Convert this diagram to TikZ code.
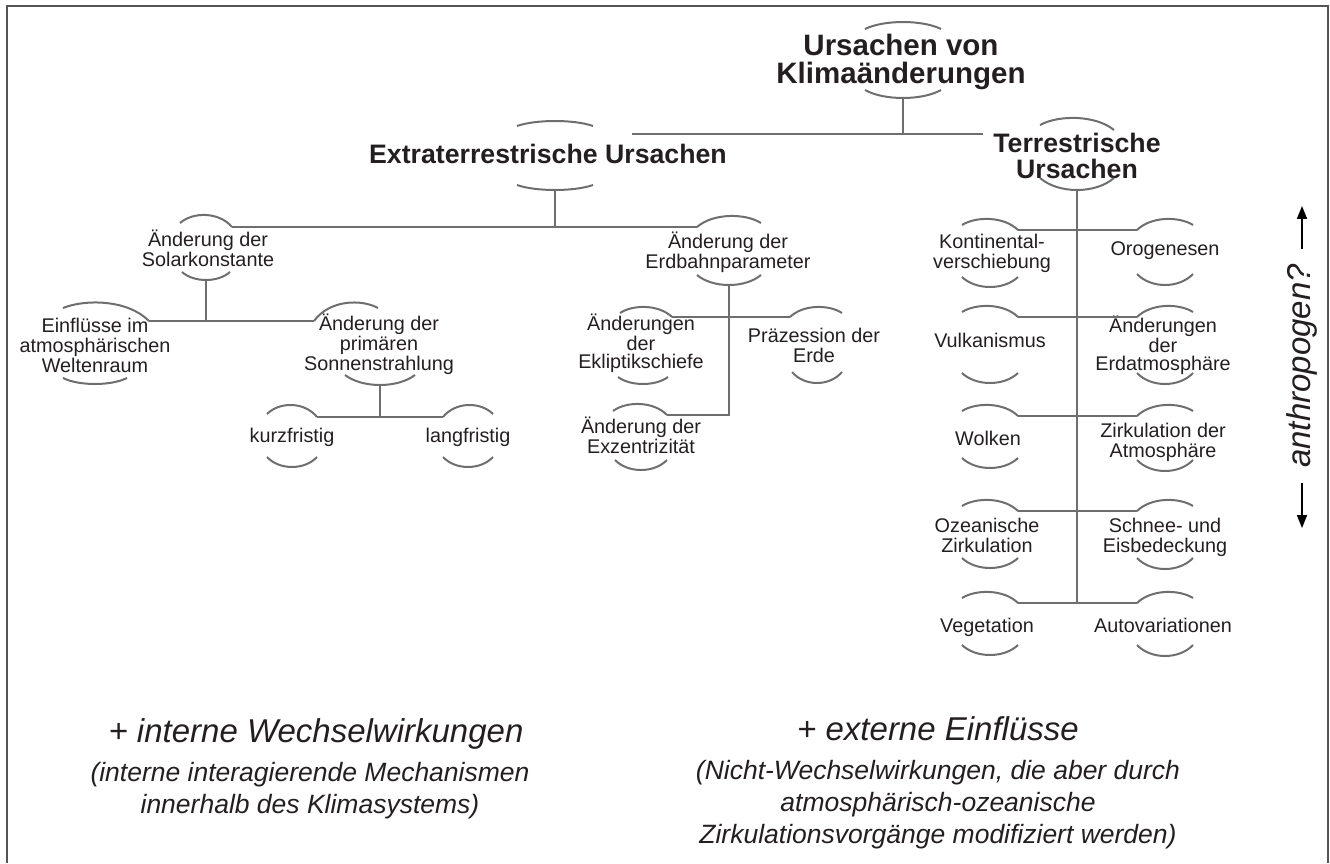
\documentclass[tikz,border=0pt]{standalone}
\usepackage{fontspec}
\setmainfont{Liberation Sans}
\usetikzlibrary{arrows.meta}
\definecolor{liniengrau}{HTML}{6E6E6E}
\definecolor{rahmengrau}{HTML}{555555}
\definecolor{schrift}{HTML}{231F20}
% #1 name, #2 centre x, #3 half width, #4 left end y, #5 right end y, #6 peak y
\newcommand{\bogen}[6]{%
  \pgfmathsetmacro\bogenc{(#6-(#4+#5)/8)*4/3}
  \draw[bogenlinie] (#2-#3,#4) coordinate (#1-l)
    .. controls (#2-#3/2,\bogenc) and (#2+#3/2,\bogenc) .. (#2+#3,#5) coordinate (#1-r);
  \coordinate (#1-m) at (#2,#6);}
\begin{document}
\begin{tikzpicture}[x=1pt,y=-1pt,text=schrift,
    linie/.style={draw=liniengrau,line width=2.6pt},
    bogenlinie/.style={draw=liniengrau,line width=2pt},
    % nodes sit on the baseline of their last line
    txt/.style={font=\fontsize{19.8}{20}\selectfont,align=center,inner sep=0pt,anchor=base},
    eng/.style={font=\fontsize{19.8}{18}\selectfont},
    kopf/.style={font=\bfseries\fontsize{26.7}{26}\selectfont,align=center,inner sep=0pt,anchor=base},
    fuss/.style={font=\itshape\fontsize{33}{36}\selectfont,inner sep=0pt,anchor=base},
    fusstxt/.style={font=\itshape\fontsize{26.5}{32}\selectfont,align=center,inner sep=0pt,anchor=base},
    pfeil/.style={line width=1.6pt,-{Triangle[length=13pt,width=10pt]}}]
\useasboundingbox (0,0) rectangle (1330,863);
%frame, open at the bottom
\draw[rahmengrau,line width=2.2pt] (7,863) -- (7,6) -- (1328,6) -- (1328,863);

%headings
\node[kopf,font=\bfseries\fontsize{29.5}{28}\selectfont] (ttl) at (901,83) {Ursachen von\\Klimaänderungen};
\bogen{ttl-t}{903}{38}{29}{29}{22}
\bogen{ttl-b}{903}{38}{90}{90}{98}
\node[kopf] (ext) at (548,163) {Extraterrestrische Ursachen};
\bogen{ext-t}{555}{38}{126}{126}{121}
\bogen{ext-b}{555}{38}{185}{185}{190}
\node[kopf] (ter) at (1077,178) {Terrestrische\\Ursachen};
\bogen{ter-t}{1077}{37}{125}{130}{118}
\bogen{ter-b}{1077}{37}{178}{178}{190}
\coordinate (hauptL) at (632,134);
\coordinate (hauptR) at (983,134);
\draw[linie] (hauptL) -- (hauptR);
\draw[linie] (ttl-b-m) -- (ttl-b-m |- hauptL);

%extraterrestrial branch
\node[txt] (sol) at (208,266) {Änderung der\\Solarkonstante};
\bogen{sol-t}{206}{26}{223}{227}{215}
\bogen{sol-b}{206}{24}{272}{272}{280}
\node[txt] (erd) at (728,268) {Änderung der\\Erdbahnparameter};
\bogen{erd-t}{729}{32}{227}{223}{216}
\bogen{erd-b}{729}{32}{275}{275}{285}
\draw[linie] (ext-b-m) -- (ext-b-m |- sol-t-r);
\draw[linie] (sol-t-r) -- (erd-t-l);

\node[txt] (ein) at (95,372) {Einflüsse im\\atmosphärischen\\Weltenraum};
\bogen{ein-t}{106}{43}{308}{321}{303}
\bogen{ein-b}{95}{32}{378}{378}{384}
\node[txt] (pri) at (379,370) {Änderung der\\primären\\Sonnenstrahlung};
\bogen{pri-t}{346}{32}{321}{308}{303}
\bogen{pri-b}{380}{35}{375}{375}{385}
\draw[linie] (sol-b-m) -- (sol-b-m |- ein-t-r);
\draw[linie] (ein-t-r) -- (pri-t-l);

\node[txt] (kur) at (292,442) {kurzfristig};
\bogen{kur-t}{292}{25}{414}{417}{405}
\bogen{kur-b}{292}{25}{457}{457}{467}
\node[txt] (lang) at (468,442) {langfristig};
\bogen{lang-t}{468}{25}{417}{414}{405}
\bogen{lang-b}{468}{25}{457}{457}{467}
\draw[linie] (pri-b-m) -- (pri-b-m |- kur-t-r);
\draw[linie] (kur-t-r) -- (lang-t-l);

\node[txt,eng] (ekl) at (641,368) {Änderungen\\der\\Ekliptikschiefe};
\bogen{ekl-t}{646}{26}{313}{317}{307}
\bogen{ekl-b}{643}{25}{377}{377}{384}
\node[txt] (pra) at (814,362) {Präzession der\\Erde};
\bogen{pra-t}{816}{26}{317}{313}{307}
\bogen{pra-b}{817}{25}{372}{372}{383}
\node[txt] (exz) at (641,453) {Änderung der\\Exzentrizität};
\bogen{exz-t}{640}{27}{411}{415}{404}
\bogen{exz-b}{641}{26}{460}{460}{470}
\draw[linie] (ekl-t-r) -- (pra-t-l);
\draw[linie] (erd-b-m) -- (erd-b-m |- exz-t-r) -- (exz-t-r);

%terrestrial branch
\node[txt] (kon) at (992,268) {Kontinental-\\verschiebung};
\node[txt] (oro) at (1165,255) {Orogenesen};
\node[txt] (vul) at (990,347) {Vulkanismus};
\node[txt,eng] (atm) at (1163,370) {Änderungen\\der\\Erdatmosphäre};
\node[txt] (wol) at (988,445) {Wolken};
\node[txt] (zir) at (1163,457) {Zirkulation der\\Atmosphäre};
\node[txt] (oze) at (987,552) {Ozeanische\\Zirkulation};
\node[txt] (sch) at (1165,552) {Schnee- und\\Eisbedeckung};
\node[txt] (veg) at (987,632) {Vegetation};
\node[txt] (aut) at (1163,632) {Autovariationen};
\foreach \y/\l/\r/\bl/\br in {230/kon/oro/277/274, 317/vul/atm/373/373, 416/wol/zir/458/460,
                              511/oze/sch/558/558, 603/veg/aut/645/645} {
  \bogen{\l-t}{990}{28}{\y-5}{\y}{\y-11}
  \bogen{\r-t}{1165}{28}{\y}{\y-5}{\y-11}
  \bogen{\l-b}{990}{28}{\bl}{\bl}{\bl+10}
  \bogen{\r-b}{1165}{28}{\br}{\br}{\br+11}
  \draw[linie] (\l-t-r) -- (\r-t-l);
}
\draw[linie] (ter-b-m) -- (ter-b-m |- veg-t-r);

%anthropogenic side note
\node[font=\itshape\fontsize{33}{36}\selectfont,rotate=90,inner xsep=15pt,inner ysep=0pt] (anth) at (1302,366) {anthropogen?};
\draw[pfeil] (anth.east) -- ++(0,-43);
\draw[pfeil] (anth.west) -- ++(0,45);

%bottom notes
\node[fuss] (intern) at (316,742) {+ interne Wechselwirkungen};
\node[fusstxt] (interntxt) at (310,813) {(interne interagierende Mechanismen\\innerhalb des Klimasystems)};
\node[fuss] (extern) at (938,740) {+ externe Einflüsse};
\node[fusstxt] (externtxt) at (938,843) {(Nicht-Wechselwirkungen, die aber durch\\atmosphärisch-ozeanische\\Zirkulationsvorgänge modifiziert werden)};
\end{tikzpicture}
\end{document}
